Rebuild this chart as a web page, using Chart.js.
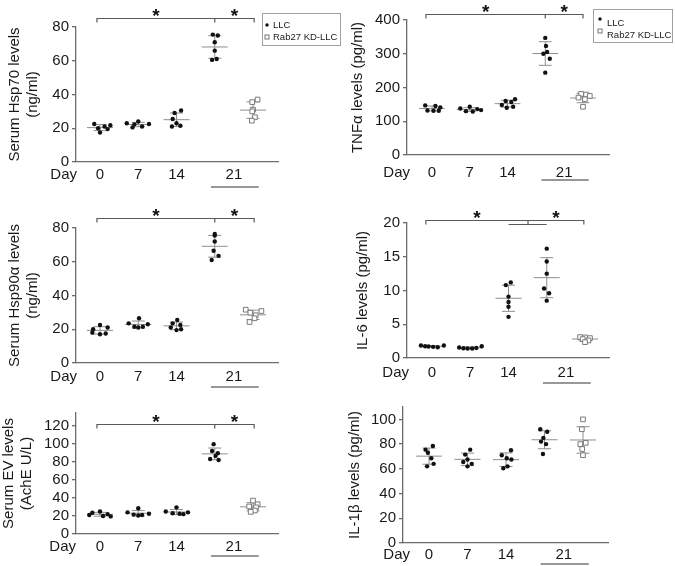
<!DOCTYPE html>
<html><head><meta charset="utf-8">
<script src="https://cdn.jsdelivr.net/npm/chart.js@4.4.1/dist/chart.umd.min.js"></script>
<style>
html,body{margin:0;padding:0;background:#fff;}
body{width:675px;height:566px;position:relative;overflow:hidden;}
canvas{position:absolute;}
</style></head><body>
<canvas id="c1"></canvas><canvas id="c2"></canvas><canvas id="c3"></canvas>
<canvas id="c4"></canvas><canvas id="c5"></canvas><canvas id="c6"></canvas>
<script>
// ---------- DATA ----------
const groupPos = [0, 1, 2, 3, 4];            // Day 0, 7, 14, 21 (LLC), 21 (Rab27 KD-LLC)
const dayLabels = ['0', '7', '14', '21'];
const dayLabelPos = [0, 1, 2, 3.5];
const seriesNames = ['LLC', 'Rab27 KD-LLC'];

// Serum Hsp70 (ng/ml)
const hsp70Vals = [
  [22.5, 21.8, 21.0, 20.0, 19.5, 17.5],
  [24.0, 23.0, 22.5, 22.3, 21.0, 20.5],
  [30.5, 29.0, 25.5, 23.0, 21.5, 21.0],
  [75.5, 75.0, 71.0, 66.0, 61.0, 60.5],
  [37.0, 35.5, 31.0, 30.0, 26.5, 24.5]];
const hsp70Jit = [
  [-0.15, 0.27, 0.12, -0.05, 0.2, 0.0],
  [0.0, -0.3, 0.28, -0.1, 0.1, -0.15],
  [0.12, -0.05, -0.1, 0.0, 0.1, -0.12],
  [-0.05, 0.08, 0.0, 0.0, 0.05, -0.07],
  [0.12, -0.02, 0.0, -0.02, 0.05, -0.03]];

// TNFα (pg/ml)
const tnfVals = [
  [147, 145, 141, 132, 131, 131],
  [143, 138, 136, 133, 130, 129],
  [165, 160, 157, 148, 143, 140],
  [347, 323, 305, 300, 285, 244],
  [181, 179, 175, 170, 165, 143]];
const tnfJit = [
  [-0.18, 0.09, 0.22, -0.12, 0.04, 0.18],
  [0.0, -0.25, 0.2, 0.3, -0.1, 0.08],
  [0.2, -0.05, 0.1, -0.15, 0.15, -0.02],
  [0.0, 0.02, 0.05, -0.05, 0.12, 0.0],
  [-0.05, 0.08, 0.18, -0.12, 0.05, 0.0]];

// Serum Hsp90α (ng/ml)
const hsp90Vals = [
  [22.5, 21.0, 20.0, 18.0, 17.5, 17.0],
  [26.5, 23.5, 23.0, 21.5, 21.5, 21.0],
  [25.5, 23.5, 22.5, 21.0, 20.0, 19.5],
  [76.5, 75.5, 72.0, 66.5, 63.5, 61.0],
  [31.6, 30.8, 29.8, 28.3, 26.5, 24.3]];
const hsp90Jit = [
  [0.0, 0.2, -0.18, -0.2, 0.15, 0.0],
  [0.02, -0.25, 0.25, -0.1, 0.12, 0.0],
  [0.02, -0.1, 0.1, -0.15, 0.12, 0.0],
  [0.0, 0.0, 0.0, -0.03, 0.1, -0.08],
  [-0.19, 0.22, -0.07, 0.07, 0.04, -0.09]];

// IL-6 (pg/ml)
const il6Vals = [
  [1.85, 1.75, 1.7, 1.65, 1.6, 1.85],
  [1.55, 1.45, 1.4, 1.4, 1.5, 1.75],
  [11.2, 10.8, 9.1, 8.3, 7.6, 6.1],
  [16.2, 14.3, 12.5, 10.3, 9.6, 8.5],
  [3.1, 3.05, 2.95, 2.8, 2.6, 2.35]];
const il6Jit = [
  [-0.29, -0.18, -0.09, 0.03, 0.15, 0.31],
  [-0.29, -0.18, -0.07, 0.05, 0.16, 0.3],
  [0.06, -0.07, 0.0, 0.0, 0.0, 0.0],
  [0.0, 0.0, 0.0, -0.07, 0.06, 0.0],
  [-0.13, 0.0, 0.13, -0.06, 0.09, 0.0]];

// Serum EV (AchE U/L)
const evVals = [
  [25.0, 23.5, 22.0, 21.0, 20.0, 19.5],
  [28.5, 24.0, 22.5, 21.5, 21.0, 20.5],
  [29.5, 25.0, 24.0, 23.0, 22.5, 22.0],
  [99.5, 92.0, 89.5, 86.5, 83.0, 82.0],
  [37.0, 33.0, 30.5, 29.5, 26.0, 24.5]];
const evJit = [
  [0.0, -0.2, 0.2, -0.28, 0.08, 0.28],
  [0.0, -0.28, 0.28, -0.12, 0.1, 0.0],
  [0.0, -0.28, 0.3, -0.1, 0.08, 0.18],
  [-0.03, -0.07, 0.08, 0.02, -0.12, 0.1],
  [0.0, 0.12, -0.1, 0.08, 0.05, -0.06]];

// IL-1β (pg/ml)
const il1bVals = [
  [78.5, 75.5, 73.0, 68.5, 64.0, 62.0],
  [75.5, 71.5, 67.5, 65.5, 64.0, 62.0],
  [75.0, 71.0, 68.5, 67.5, 62.0, 60.5],
  [92.0, 90.0, 85.0, 82.0, 80.0, 72.0],
  [100.0, 92.0, 81.0, 80.0, 76.0, 71.0]];
const il1bJit = [
  [0.1, -0.09, -0.03, 0.06, 0.12, -0.05],
  [0.07, -0.06, 0.0, -0.11, 0.11, 0.0],
  [0.13, -0.11, 0.02, 0.14, 0.04, -0.07],
  [-0.11, 0.07, -0.03, -0.09, 0.04, -0.04],
  [0.0, -0.03, 0.07, -0.07, -0.02, 0.0]];

// ---------- STYLE ----------
const FONT = '"Liberation Sans", Arial, Helvetica, sans-serif';
const FS = 15;
const TEXT = '#1a1a1a', AXIS = '#6b6b6b', ERR = '#8e8e8e', BRK = '#5a5a5a';
const MEAN_W = 0.34, CAP_W = 0.17;
Chart.defaults.font.family = FONT;
Chart.defaults.color = TEXT;

function stats(v) {
  const n = v.length, m = v.reduce((a, b) => a + b, 0) / n;
  const sd = Math.sqrt(v.reduce((a, b) => a + (b - m) * (b - m), 0) / (n - 1));
  return { m, sd };
}
function points(vals, jit, gIdx) {
  const out = [];
  gIdx.forEach(g => vals[g].forEach((v, i) => out.push({ x: groupPos[g] + jit[g][i], y: v })));
  return out;
}
function errorSegs(vals) {
  const d = [];
  const seg = (x1, y1, x2, y2) => d.push({ x: x1, y: y1 }, { x: x2, y: y2 }, { x: x2, y: null });
  vals.forEach((v, g) => {
    const { m, sd } = stats(v), p = groupPos[g];
    seg(p - MEAN_W, m, p + MEAN_W, m);
    seg(p, m - sd, p, m + sd);
    seg(p - CAP_W, m + sd, p + CAP_W, m + sd);
    seg(p - CAP_W, m - sd, p + CAP_W, m - sd);
  });
  return d;
}

const extrasPlugin = {
  id: 'extras',
  afterDraw(chart, args, o) {
    const { ctx, chartArea: ca } = chart;
    const x = chart.scales.x, y = chart.scales.y;
    ctx.save();
    // "Day" label
    ctx.font = FS + 'px ' + FONT;
    ctx.fillStyle = TEXT; ctx.textAlign = 'right'; ctx.textBaseline = 'middle';
    ctx.fillText('Day', x.left + o.dayDx, ca.bottom + o.labPad + FS * 1.2 / 2);
    // underline under 21
    ctx.strokeStyle = '#333'; ctx.lineWidth = 1.2;
    ctx.beginPath();
    ctx.moveTo(x.getPixelForValue(groupPos[3] - 0.1), ca.bottom + o.ulDy);
    ctx.lineTo(x.getPixelForValue(groupPos[4] + 0.15), ca.bottom + o.ulDy);
    ctx.stroke();
    // significance brackets
    if (o.bracket) {
      const b = o.bracket, by = Math.round(y.getPixelForValue(b.y)) + 0.5;
      const L = x.getPixelForValue(b.l), M = x.getPixelForValue(b.m), R = x.getPixelForValue(b.r);
      ctx.strokeStyle = BRK; ctx.lineWidth = 1.2;
      ctx.beginPath();
      ctx.moveTo(L, by + 4); ctx.lineTo(L, by); ctx.lineTo(R, by); ctx.lineTo(R, by + 4);
      ctx.moveTo(M, by); ctx.lineTo(M, by + 4);
      if (b.sub) {
        ctx.moveTo(x.getPixelForValue(b.sub[0]), by + 4);
        ctx.lineTo(x.getPixelForValue(b.sub[1]), by + 4);
      }
      ctx.stroke();
      ctx.fillStyle = '#111'; ctx.textAlign = 'center'; ctx.textBaseline = 'alphabetic';
      ctx.font = 'bold 19px ' + FONT;
      ctx.fillText('*', (L + M) / 2, by + 3);
      ctx.fillText('*', (M + R) / 2, by + 3);
    }
    // legend
    if (o.legend) {
      const g = o.legend;
      ctx.strokeStyle = '#a0a0a0'; ctx.lineWidth = 1;
      ctx.strokeRect(g.x + 0.5, g.y + 0.5, g.w, g.h);
      ctx.font = '9.5px ' + FONT; ctx.textAlign = 'left'; ctx.textBaseline = 'middle';
      ctx.beginPath(); ctx.arc(g.mx, g.r1m, 1.7, 0, Math.PI * 2); ctx.fillStyle = '#111'; ctx.fill();
      ctx.strokeStyle = '#777'; ctx.strokeRect(g.mx - 2, g.r2m - 2, 4, 4);
      ctx.fillStyle = TEXT;
      ctx.fillText(seriesNames[0], g.tx, g.r1);
      ctx.fillText(seriesNames[1], g.tx, g.r2);
    }
    ctx.restore();
  }
};

function makePanel(id, geo, vals, jit, yCfg, title, titlePad, extras) {
  const cv = document.getElementById(id);
  cv.width = geo.w; cv.height = geo.h;
  cv.style.left = geo.l + 'px'; cv.style.top = geo.t + 'px';
  const sp = (geo.x4 - geo.x0) / 4;
  const xmin = (geo.axisX - geo.x0) / sp, xmax = (geo.right - geo.x0) / sp;
  const yW = geo.axisX - geo.l, xH = geo.t + geo.h - geo.bottom;
  const padTop = geo.top - geo.t, padRight = geo.l + geo.w - geo.right;
  if (extras.legend) {
    const g = extras.legend;
    g.x -= geo.l; g.y -= geo.t; g.mx -= geo.l; g.tx -= geo.l;
    g.r1 -= geo.t; g.r2 -= geo.t; g.r1m -= geo.t; g.r2m -= geo.t;
  }
  return new Chart(cv, {
    type: 'scatter',
    data: { datasets: [
      { label: seriesNames[0], data: points(vals, jit, [0, 1, 2, 3]), pointRadius: 2.2,
        pointBackgroundColor: '#111', pointBorderColor: '#111', pointBorderWidth: 0, order: 0 },
      { label: seriesNames[1], data: points(vals, jit, [4]), pointStyle: 'rect', pointRadius: 3.3,
        pointBackgroundColor: '#fff', pointBorderColor: '#7a7a7a', pointBorderWidth: 1, order: 0 },
      { label: 'mean ± SD', data: errorSegs(vals), showLine: true, spanGaps: false, pointRadius: 0,
        borderColor: ERR, borderWidth: 1, order: 1 }
    ] },
    options: {
      responsive: false, animation: false, events: [],
      layout: { padding: { left: 0, top: padTop, right: padRight, bottom: 0 } },
      plugins: { legend: { display: false }, tooltip: { enabled: false }, extras: extras },
      scales: {
        x: {
          type: 'linear', min: xmin, max: xmax,
          afterFit: s => { s.height = xH; },
          afterBuildTicks: s => { s.ticks = dayLabelPos.map(v => ({ value: v })); },
          grid: { display: false, drawTicks: false },
          border: { display: true, color: AXIS, width: 1.3 },
          ticks: { autoSkip: false, maxRotation: 0, padding: extras.labPad, color: TEXT,
            font: { size: FS, lineHeight: 1.2 }, callback: (v, i) => dayLabels[i] }
        },
        y: {
          min: 0, max: yCfg.max,
          afterBuildTicks: s => {
            const t = [];
            for (let v = 0; v <= yCfg.tickMax + 1e-9; v += yCfg.step) t.push({ value: v });
            s.ticks = t;
          },
          afterFit: s => { s.width = yW; },
          ticks: { autoSkip: false, padding: 3, color: TEXT, font: { size: FS } },
          grid: { drawOnChartArea: false, drawTicks: true, tickLength: 4, color: AXIS, lineWidth: 1.3 },
          border: { color: AXIS, width: 1.3 },
          title: { display: true, text: title, color: TEXT, font: { size: FS, lineHeight: 1.2 },
            padding: { top: titlePad, bottom: 0 } }
        }
      }
    },
    plugins: [extrasPlugin]
  });
}

makePanel('c1', { l: 0, t: 0, w: 345, h: 190, axisX: 76, top: 27, bottom: 162, right: 278, x0: 100, x4: 253 },
  hsp70Vals, hsp70Jit, { max: 80, tickMax: 80, step: 20 }, ['Serum Hsp70 levels', '(ng/ml)'], 6,
  { dayDx: 1, ulDy: 25, labPad: 4, bracket: { y: 85.3, l: -0.08, m: 3, r: 4.03 },
    legend: { x: 262, y: 13, w: 78, h: 32, mx: 267, tx: 273, r1: 25, r2: 37, r1m: 25, r2m: 37 } });

makePanel('c2', { l: 340, t: 0, w: 335, h: 190, axisX: 407, top: 20, bottom: 155, right: 609, x0: 432, x4: 583 },
  tnfVals, tnfJit, { max: 400, tickMax: 400, step: 100 }, 'TNFα levels (pg/ml)', 9,
  { dayDx: 3, ulDy: 25, labPad: 9, bracket: { y: 417.8, l: -0.16, m: 3, r: 4.0 },
    legend: { x: 593, y: 9, w: 79, h: 33, mx: 600, tx: 607, r1: 23, r2: 35, r1m: 19, r2m: 31 } });

makePanel('c3', { l: 0, t: 190, w: 340, h: 200, axisX: 76, top: 228, bottom: 363, right: 278, x0: 100, x4: 253 },
  hsp90Vals, hsp90Jit, { max: 80, tickMax: 80, step: 20 }, ['Serum Hsp90α levels', '(ng/ml)'], 6,
  { dayDx: 1, ulDy: 24, labPad: 5, bracket: { y: 85.9, l: -0.08, m: 3, r: 4.03 } });

makePanel('c4', { l: 340, t: 190, w: 335, h: 200, axisX: 407, top: 223, bottom: 358, right: 609, x0: 432, x4: 585 },
  il6Vals, il6Jit, { max: 20, tickMax: 20, step: 5 }, 'IL-6 levels (pg/ml)', 14,
  { dayDx: 2, ulDy: 25, labPad: 6, bracket: { y: 20.44, l: -0.16, m: 2.51, r: 3.97, sub: [2, 3] } });

makePanel('c5', { l: 0, t: 390, w: 340, h: 176, axisX: 76, top: 413, bottom: 534, right: 278, x0: 100, x4: 253 },
  evVals, evJit, { max: 134, tickMax: 120, step: 20 }, ['Serum EV levels', '(AchE U/L)'], 0,
  { dayDx: 0, ulDy: 22, labPad: 4, bracket: { y: 122.2, l: -0.08, m: 3, r: 4.03 } });

makePanel('c6', { l: 340, t: 390, w: 335, h: 176, axisX: 403, top: 407, bottom: 543, right: 608, x0: 429, x4: 583 },
  il1bVals, il1bJit, { max: 110, tickMax: 100, step: 20 }, 'IL-1β levels (pg/ml)', 6,
  { dayDx: 7, ulDy: 21, labPad: 3 });
</script></body></html>
